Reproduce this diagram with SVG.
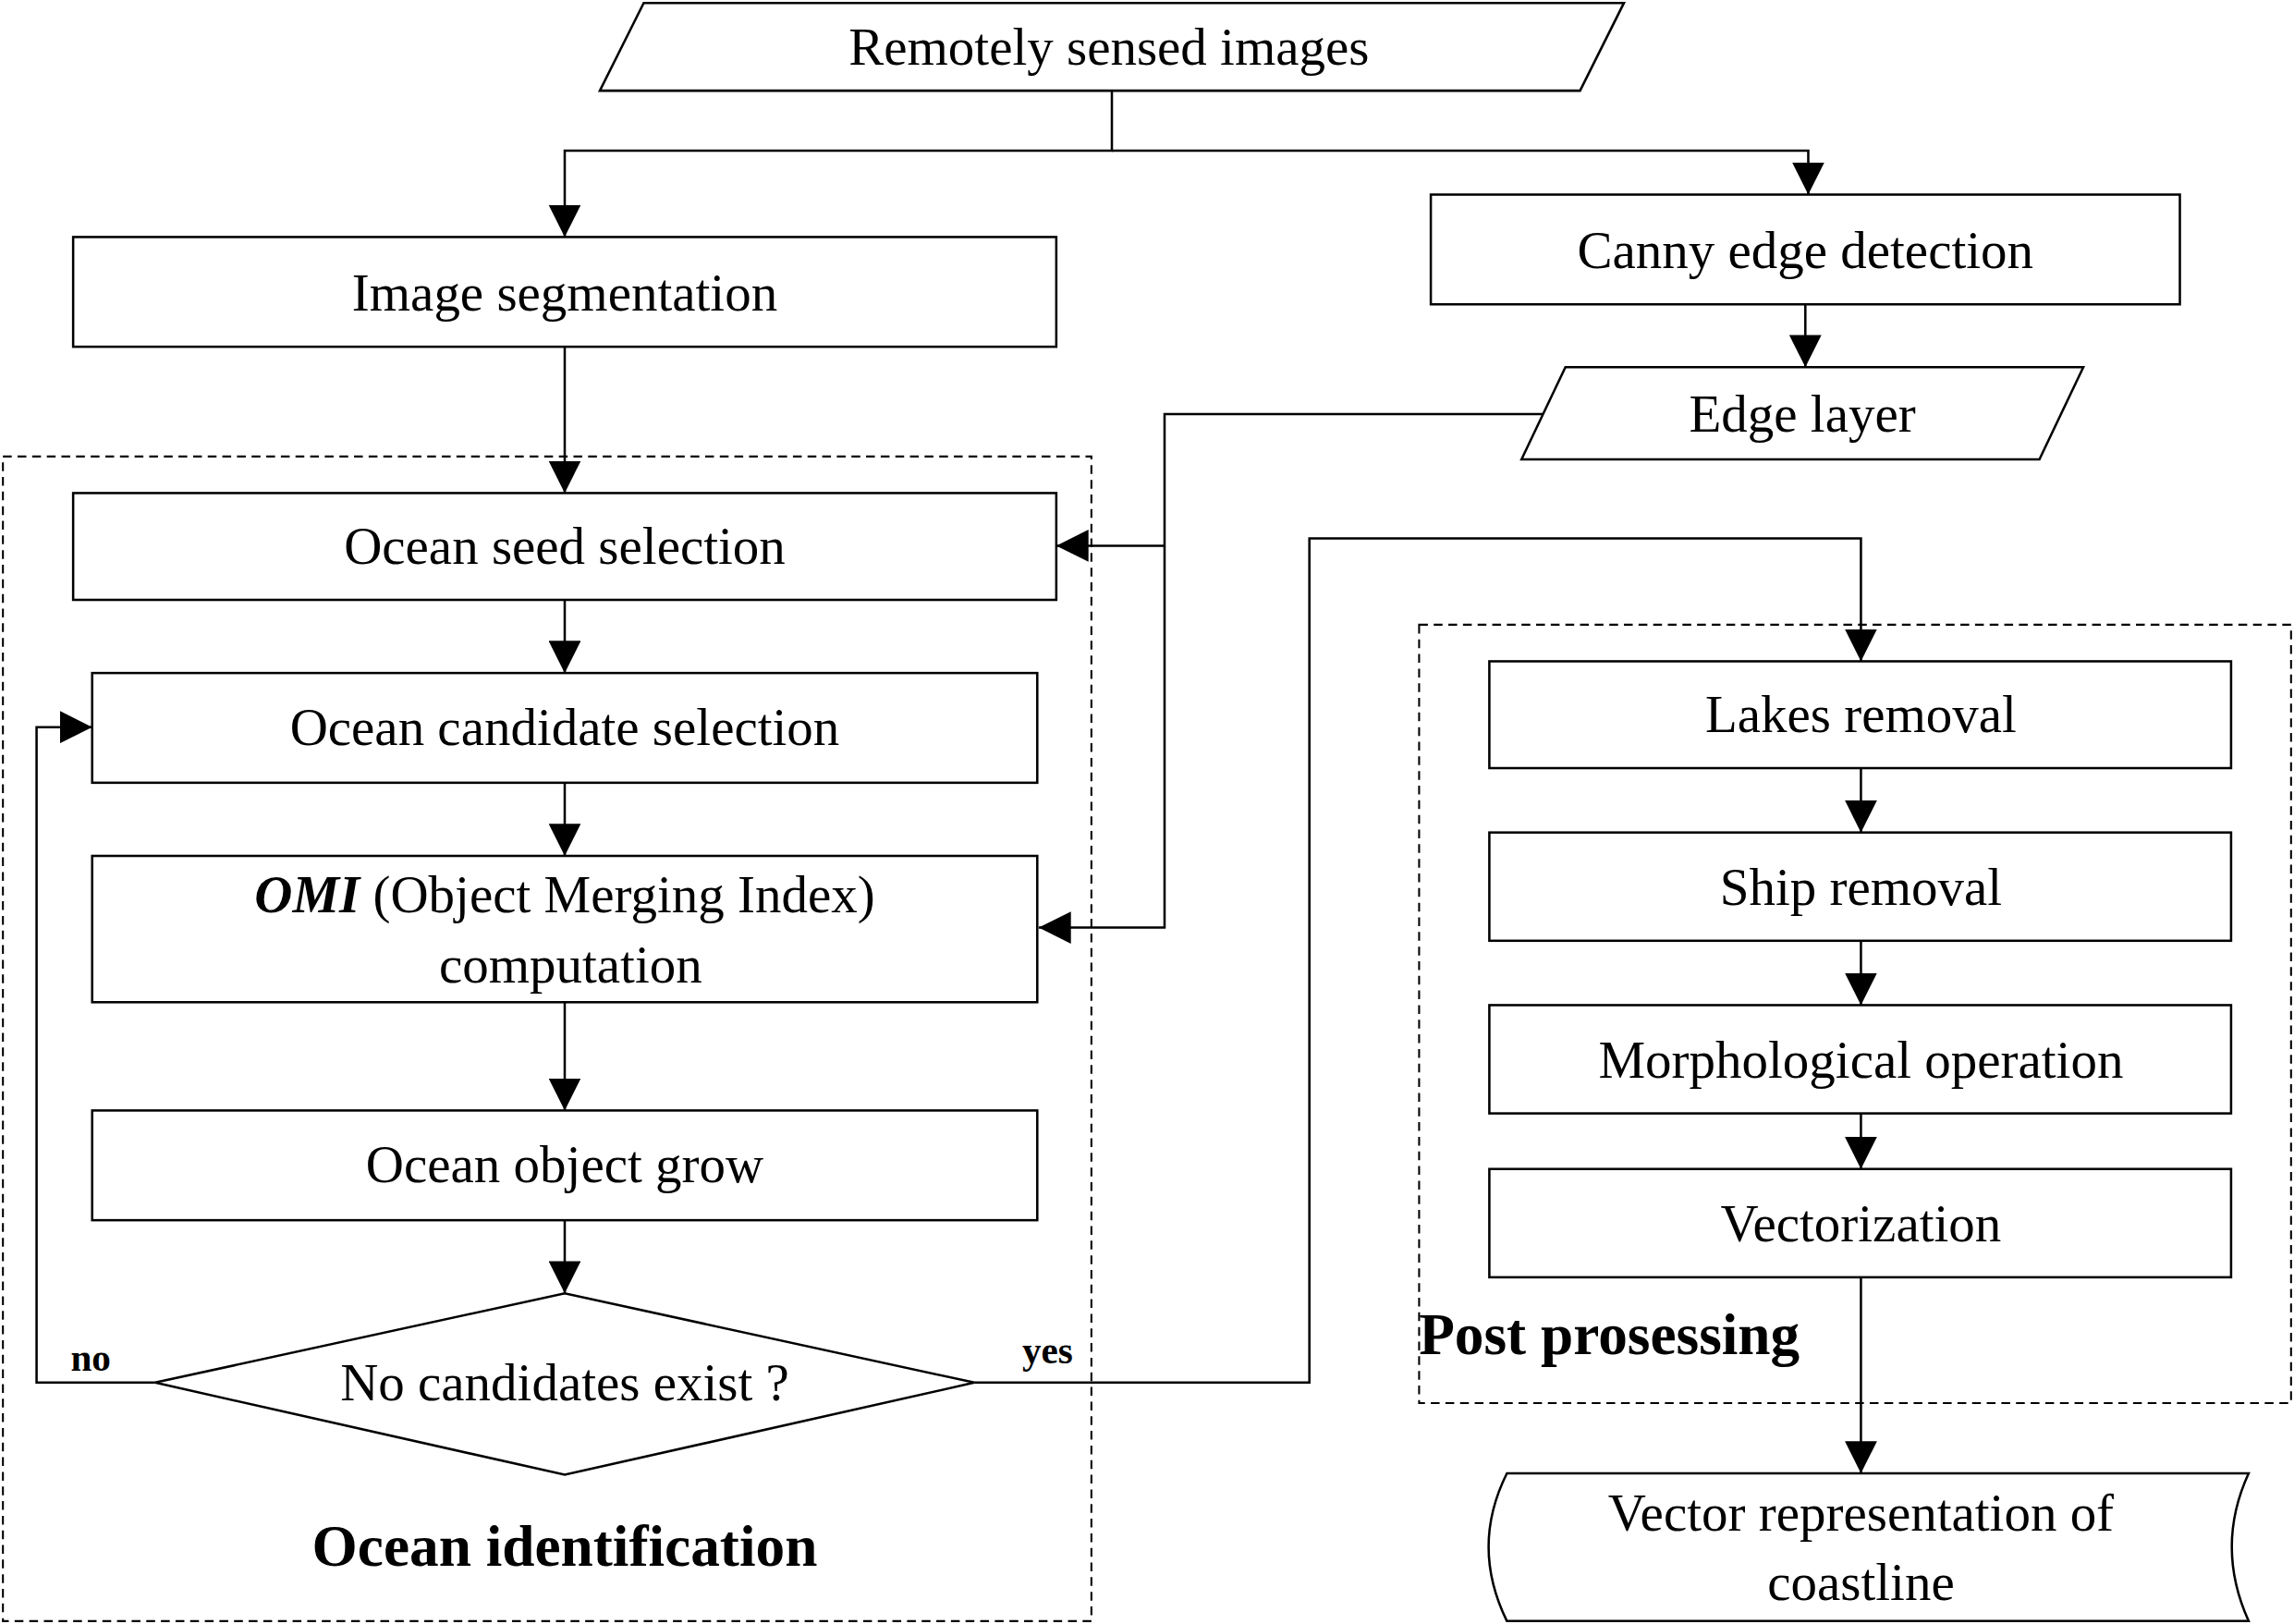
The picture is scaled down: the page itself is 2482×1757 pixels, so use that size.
<svg xmlns="http://www.w3.org/2000/svg" width="2482" height="1757" viewBox="0 0 2482 1757">
<defs>
<style>
.b{fill:#fff;stroke:#000;stroke-width:1.6}
.d{fill:none;stroke:#000;stroke-width:1.3;stroke-dasharray:6 4}
.c{fill:none;stroke:#000;stroke-width:1.6}
text{font-family:"Liberation Serif","Times New Roman",serif;font-size:36px;text-anchor:middle;dominant-baseline:central;fill:#000}
.t{font-weight:bold;font-size:40px}
.s{font-weight:bold;font-size:26px}
</style>
<marker id="a" markerUnits="userSpaceOnUse" markerWidth="24" markerHeight="22" refX="22" refY="11" orient="auto"><path d="M0,0 L22,11 L0,22 Z" fill="#000"/></marker>
</defs>
<rect width="2482" height="1757" fill="#fff"/>
<g transform="scale(1.5829)">
<rect class="d" x="2" y="312" width="744" height="796"/>
<rect class="d" x="970" y="427" width="596" height="532"/>
<g id="connectors">
<polyline class="c" points="760,62 760,103 386,103 386,162" marker-end="url(#a)"/>
<polyline class="c" points="760,103 1236,103 1236,133" marker-end="url(#a)"/>
<polyline class="c" points="1234,208 1234,251" marker-end="url(#a)"/>
<polyline class="c" points="1055,283 796,283 796,634 710,634" marker-end="url(#a)"/>
<polyline class="c" points="796,373 722,373" marker-end="url(#a)"/>
<polyline class="c" points="386,237 386,337" marker-end="url(#a)"/>
<polyline class="c" points="386,410 386,460" marker-end="url(#a)"/>
<polyline class="c" points="386,535 386,585" marker-end="url(#a)"/>
<polyline class="c" points="386,685 386,759" marker-end="url(#a)"/>
<polyline class="c" points="386,834 386,884" marker-end="url(#a)"/>
<polyline class="c" points="106,945 25,945 25,497 63,497" marker-end="url(#a)"/>
<polyline class="c" points="666,945 895,945 895,368 1272,368 1272,452" marker-end="url(#a)"/>
<polyline class="c" points="1272,525 1272,569" marker-end="url(#a)"/>
<polyline class="c" points="1272,643 1272,687" marker-end="url(#a)"/>
<polyline class="c" points="1272,761 1272,799" marker-end="url(#a)"/>
<polyline class="c" points="1272,873 1272,1007" marker-end="url(#a)"/>
<text class="s" x="62" y="928">no</text>
<text class="s" x="716" y="923">yes</text>
</g>
<g id="n_input"><polygon class="b" points="410,62 440,2 1110,2 1080,62"/><text x="758" y="32">Remotely sensed images</text></g>
<g id="n_seg"><rect class="b" x="50" y="162" width="672" height="75"/><text x="386" y="200">Image segmentation</text></g>
<g id="n_canny"><rect class="b" x="978" y="133" width="512" height="75"/><text x="1234" y="171">Canny edge detection</text></g>
<g id="n_edge"><polygon class="b" points="1040,314 1070,251 1424,251 1394,314"/><text x="1232" y="283">Edge layer</text></g>
<g id="n_seed"><rect class="b" x="50" y="337" width="672" height="73"/><text x="386" y="373">Ocean seed selection</text></g>
<g id="n_cand"><rect class="b" x="63" y="460" width="646" height="75"/><text x="386" y="497">Ocean candidate selection</text></g>
<g id="n_omi"><rect class="b" x="63" y="585" width="646" height="100"/><text x="386" y="611"><tspan font-weight="bold" font-style="italic">OMI</tspan> (Object Merging Index)</text><text x="390" y="659">computation</text></g>
<g id="n_grow"><rect class="b" x="63" y="759" width="646" height="75"/><text x="386" y="796">Ocean object grow</text></g>
<g id="n_dec"><polygon class="b" points="106,945 386,884 666,945 386,1008"/><text x="386" y="945">No candidates exist ?</text></g>
<g id="n_lakes"><rect class="b" x="1018" y="452" width="507" height="73"/><text x="1272" y="488">Lakes removal</text></g>
<g id="n_ship"><rect class="b" x="1018" y="569" width="507" height="74"/><text x="1272" y="606">Ship removal</text></g>
<g id="n_morph"><rect class="b" x="1018" y="687" width="507" height="74"/><text x="1272" y="724">Morphological operation</text></g>
<g id="n_vec"><rect class="b" x="1018" y="799" width="507" height="74"/><text x="1272" y="836">Vectorization</text></g>
<g id="n_out"><path class="b" d="M1030,1007 L1537,1007 Q1514,1057 1537,1108 L1030,1108 Q1005,1057 1030,1007 Z"/><text x="1272" y="1034">Vector representation of</text><text x="1272" y="1081">coastline</text></g>
<text class="t" x="386" y="1057">Ocean identification</text>
<text class="t" x="1100" y="912">Post prosessing</text>
</g>
</svg>
